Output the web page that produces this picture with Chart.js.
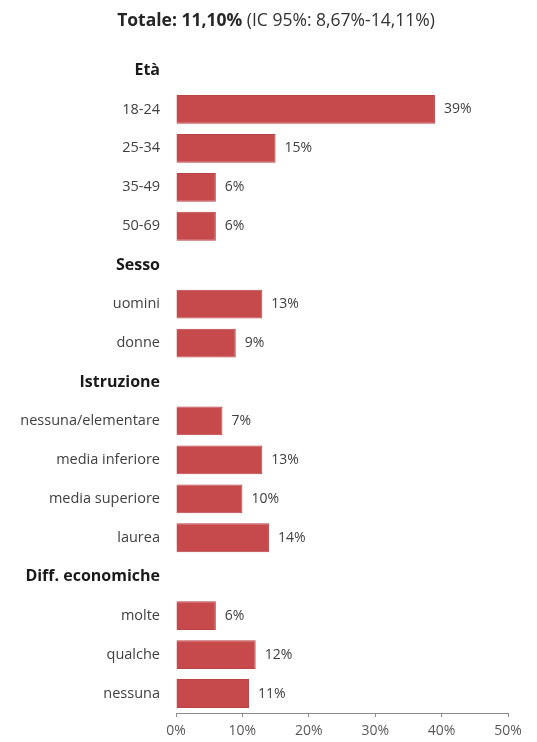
<!DOCTYPE html>
<html>
<head>
<meta charset="utf-8">
<script src="https://cdn.jsdelivr.net/npm/chart.js@4"></script>
<style>
    body { margin: 0; background: #ffffff; }
    #wrap { width: 537px; height: 742px; }
</style>
</head>
<body>
<div id="wrap"><canvas id="chart"></canvas></div>
<script>
// categories (group headers have no value)
var labels = ['Età', '18-24', '25-34', '35-49', '50-69',
    'Sesso', 'uomini', 'donne',
    'Istruzione', 'nessuna/elementare', 'media inferiore', 'media superiore', 'laurea',
    'Diff. economiche', 'molte', 'qualche', 'nessuna'];

var headers = ['Età', 'Sesso', 'Istruzione', 'Diff. economiche'];

var values = [null, 39, 15, 6, 6,
    null, 13, 9,
    null, 7, 13, 10, 14,
    null, 6, 12, 11];

var titleBold = 'Totale: 11,10%';
var titleRest = ' (IC 95%: 8,67%-14,11%)';

var fontName = "'Open Sans', 'Liberation Sans', sans-serif";

function isHeader(i) {
    return headers.indexOf(labels[i]) >= 0;
}

var titlePlugin = {
    id: 'titlePlugin',
    afterDraw: function(chart) {
        var ctx = chart.ctx;
        ctx.save();
        ctx.textBaseline = 'middle';
        ctx.font = 'bold 17.5px ' + fontName;
        var w1 = ctx.measureText(titleBold).width;
        ctx.font = '17.5px ' + fontName;
        var w2 = ctx.measureText(titleRest).width;
        var x = 276 - (w1 + w2) / 2;
        ctx.fillStyle = '#262626';
        ctx.font = 'bold 17.5px ' + fontName;
        ctx.fillText(titleBold, x, 21);
        ctx.font = '17.5px ' + fontName;
        ctx.fillStyle = '#333333';
        ctx.fillText(titleRest, x + w1, 21);
        ctx.restore();
    }
};

var valueLabels = {
    id: 'valueLabels',
    afterDatasetsDraw: function(chart) {
        var ctx = chart.ctx;
        var meta = chart.getDatasetMeta(0);
        ctx.save();
        ctx.font = '14px ' + fontName;
        ctx.fillStyle = '#404040';
        ctx.textBaseline = 'middle';
        meta.data.forEach(function(bar, i) {
            if (values[i] == null) return;
            ctx.fillText(values[i] + '%', bar.x + 9, bar.y);
        });
        ctx.restore();
    }
};

var myChart = new Chart(document.getElementById('chart'), {
    type: 'bar',
    data: {
        labels: labels,
        datasets: [{
            data: values,
            backgroundColor: '#C64A4C',
            borderColor: '#b94345',
            borderWidth: 1,
            categoryPercentage: 1,
            barPercentage: 0.74
        }]
    },
    options: {
        indexAxis: 'y',
        responsive: true,
        maintainAspectRatio: false,
        animation: false,
        layout: { padding: { top: 51, right: 29, left: 4, bottom: 0 } },
        plugins: {
            legend: { display: false },
            tooltip: { enabled: false }
        },
        scales: {
            x: {
                min: 0,
                max: 50,
                afterFit: function(s) { s.height = 29; },
                ticks: {
                    stepSize: 10,
                    color: '#595959',
                    padding: 6,
                    font: { family: fontName, size: 14 },
                    callback: function(v) { return v + '%'; }
                },
                grid: {
                    drawOnChartArea: false,
                    drawTicks: true,
                    tickLength: 4,
                    color: '#8c8c8c'
                },
                border: { display: true, color: '#8c8c8c' }
            },
            y: {
                afterFit: function(s) { s.width = 172; },
                ticks: {
                    padding: 8,
                    color: function(c) { return isHeader(c.index) ? '#1a1a1a' : '#404040'; },
                    font: function(c) {
                        return isHeader(c.index)
                            ? { family: fontName, size: 16, weight: 'bold' }
                            : { family: fontName, size: 14.5 };
                    }
                },
                grid: { display: false },
                border: { display: false }
            }
        }
    },
    plugins: [titlePlugin, valueLabels]
});
</script>
</body>
</html>
